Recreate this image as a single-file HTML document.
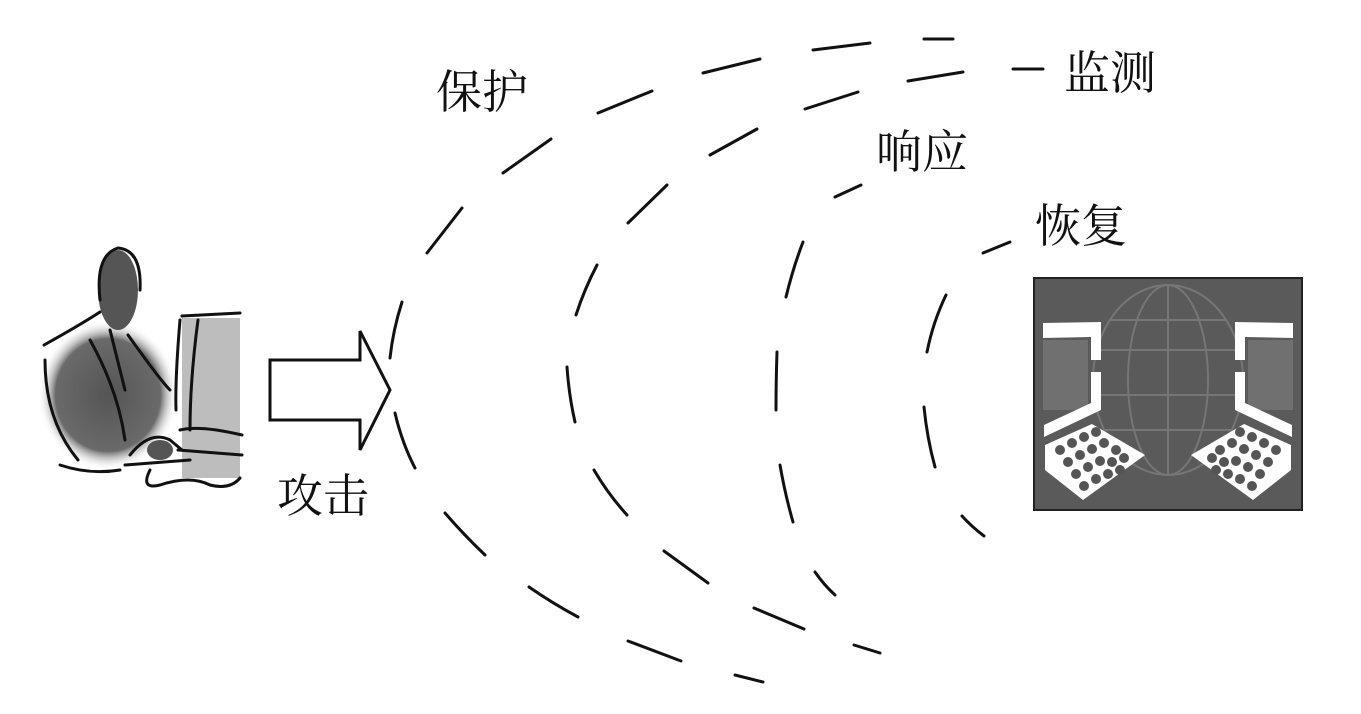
<!DOCTYPE html>
<html><head><meta charset="utf-8"><style>
html,body{margin:0;padding:0;background:#fff;}
svg{display:block;}
text{font-family:"Liberation Serif","Noto Serif CJK SC",serif;fill:#111;}
</style></head><body>
<svg width="1361" height="714" viewBox="0 0 1361 714" xmlns="http://www.w3.org/2000/svg">
<defs>
<radialGradient id="bg" cx="0.5" cy="0.5" r="0.5">
<stop offset="0" stop-color="#555"/><stop offset="0.75" stop-color="#6a6a6a"/><stop offset="1" stop-color="#fff" stop-opacity="0"/>
</radialGradient>
</defs>
<!-- person -->
<g stroke="#111" stroke-width="3" fill="none" stroke-linecap="round">
<ellipse cx="108" cy="395" rx="70" ry="75" fill="url(#bg)" stroke="none"/>
<rect x="182" y="318" width="58" height="160" fill="#bdbdbd" stroke="none"/>
<ellipse cx="118" cy="290" rx="20" ry="40" fill="#555" stroke="none"/>
<path d="M100 300 Q95 255 118 248 Q142 250 140 290"/>
<path d="M44 345 Q80 325 100 312"/>
<path d="M45 360 Q45 420 78 460"/>
<path d="M90 340 Q118 390 125 440"/>
<path d="M110 330 L125 390"/>
<path d="M128 335 Q160 380 170 390"/>
<path d="M180 320 Q175 380 176 410"/>
<path d="M182 316 L240 313"/>
<path d="M198 320 Q190 380 190 430"/>
<path d="M180 430 Q200 425 242 435"/>
<path d="M178 450 L242 455"/>
<path d="M130 455 Q150 430 170 440 L182 450"/>
<path d="M125 465 L190 460"/>
<path d="M150 470 Q140 490 160 485 Q190 475 210 485 Q230 490 240 478"/>
<path d="M60 465 Q90 475 120 470"/>
</g>
<ellipse cx="160" cy="450" rx="13" ry="10" fill="#555"/>
<!-- arrow -->
<path d="M270 360 L360 360 L360 331 L390 390 L360 450 L360 420 L270 420 Z" fill="#fff" stroke="#111" stroke-width="3" stroke-linejoin="miter"/>
<!-- dashes -->
<g stroke="#111" stroke-width="3" stroke-linecap="round" fill="none">
<line x1="1013" y1="69" x2="1043" y2="69"/>
<line x1="924" y1="39" x2="953" y2="39"/>
<line x1="813" y1="50" x2="870" y2="43"/>
<line x1="703" y1="73" x2="760" y2="59"/>
<line x1="598" y1="113" x2="652" y2="91"/>
<line x1="503" y1="173" x2="551" y2="139"/>
<line x1="427" y1="253" x2="462" y2="208"/>
<path d="M402 302 Q393 330 390 358"/>
<path d="M395 413 Q402 443 415 468"/>
<path d="M445 513 Q464 535 485 555"/>
<path d="M529 587 Q552 603 578 617"/>
<line x1="628" y1="641" x2="681" y2="661"/>
<line x1="735" y1="675" x2="763" y2="682"/>
<line x1="908" y1="81" x2="963" y2="72"/>
<line x1="805" y1="109" x2="858" y2="92"/>
<line x1="710" y1="155" x2="757" y2="129"/>
<line x1="628" y1="223" x2="667" y2="185"/>
<path d="M597 265 Q584 290 576 315"/>
<path d="M567 367 Q569 396 575 422"/>
<path d="M594 470 Q608 494 627 515"/>
<line x1="664" y1="551" x2="708" y2="583"/>
<line x1="754" y1="608" x2="804" y2="629"/>
<line x1="854" y1="645" x2="880" y2="653"/>
<line x1="835" y1="197" x2="861" y2="185"/>
<path d="M803 242 Q793 268 786 297"/>
<path d="M777 352 Q776 381 776 410"/>
<path d="M780 465 Q785 494 793 522"/>
<path d="M815 572 Q824 585 835 595"/>
<line x1="983" y1="253" x2="1010" y2="242"/>
<path d="M946 295 Q933 322 927 352"/>
<path d="M924 407 Q927 438 935 467"/>
<path d="M962 516 Q972 527 984 536"/>
</g>
<!-- labels -->
<text x="436" y="108" font-size="46">保护</text>
<text x="1064" y="89" font-size="46">监测</text>
<text x="876" y="168" font-size="46">响应</text>
<text x="1035" y="242" font-size="46">恢复</text>
<text x="277" y="512" font-size="46">攻击</text>
<!-- computer image -->
<rect x="1034" y="278" width="268" height="232" fill="#5a5a5a" stroke="#222" stroke-width="2"/>
<g stroke="#767676" stroke-width="2" fill="none">
<ellipse cx="1168" cy="380" rx="75" ry="95"/>
<ellipse cx="1168" cy="380" rx="40" ry="95"/>
<line x1="1168" y1="285" x2="1168" y2="475"/>
<line x1="1095" y1="350" x2="1241" y2="350"/>
<line x1="1095" y1="395" x2="1241" y2="395"/>
<line x1="1110" y1="320" x2="1226" y2="320"/>
<line x1="1105" y1="430" x2="1231" y2="430"/>
</g>
<rect x="1043" y="340" width="45" height="70" fill="#707070"/>
<rect x="1248" y="340" width="45" height="70" fill="#707070"/>
<g fill="#fff">
<path d="M1043 323 L1101 322 L1101 360 L1091 360 L1091 337 L1043 338 Z"/>
<path d="M1091 372 L1101 372 L1101 410 L1044 437 L1044 425 L1091 403 Z"/>
<path d="M1045 445 L1092 424 L1145 455 L1083 500 L1045 470 Z"/>
<path d="M1293 323 L1235 322 L1235 360 L1245 360 L1245 337 L1293 338 Z"/>
<path d="M1245 372 L1235 372 L1235 410 L1292 437 L1292 425 L1245 403 Z"/>
<path d="M1291 445 L1244 424 L1191 455 L1253 500 L1291 470 Z"/>
</g>
<g fill="#555">
<circle cx="1060" cy="450" r="5"/><circle cx="1072" cy="443" r="5"/><circle cx="1084" cy="437" r="5"/><circle cx="1096" cy="432" r="5"/>
<circle cx="1068" cy="462" r="5"/><circle cx="1080" cy="455" r="5"/><circle cx="1092" cy="449" r="5"/><circle cx="1104" cy="443" r="5"/><circle cx="1116" cy="450" r="5"/>
<circle cx="1076" cy="474" r="5"/><circle cx="1088" cy="467" r="5"/><circle cx="1100" cy="461" r="5"/><circle cx="1112" cy="462" r="5"/><circle cx="1124" cy="458" r="5"/>
<circle cx="1084" cy="486" r="5"/><circle cx="1096" cy="479" r="5"/><circle cx="1108" cy="474" r="5"/><circle cx="1120" cy="470" r="5"/>
<circle cx="1276" cy="450" r="5"/><circle cx="1264" cy="443" r="5"/><circle cx="1252" cy="437" r="5"/><circle cx="1240" cy="432" r="5"/>
<circle cx="1268" cy="462" r="5"/><circle cx="1256" cy="455" r="5"/><circle cx="1244" cy="449" r="5"/><circle cx="1232" cy="443" r="5"/><circle cx="1220" cy="450" r="5"/>
<circle cx="1260" cy="474" r="5"/><circle cx="1248" cy="467" r="5"/><circle cx="1236" cy="461" r="5"/><circle cx="1224" cy="462" r="5"/><circle cx="1212" cy="458" r="5"/>
<circle cx="1252" cy="486" r="5"/><circle cx="1240" cy="479" r="5"/><circle cx="1228" cy="474" r="5"/><circle cx="1216" cy="470" r="5"/>
</g>
</svg>
</body></html>
